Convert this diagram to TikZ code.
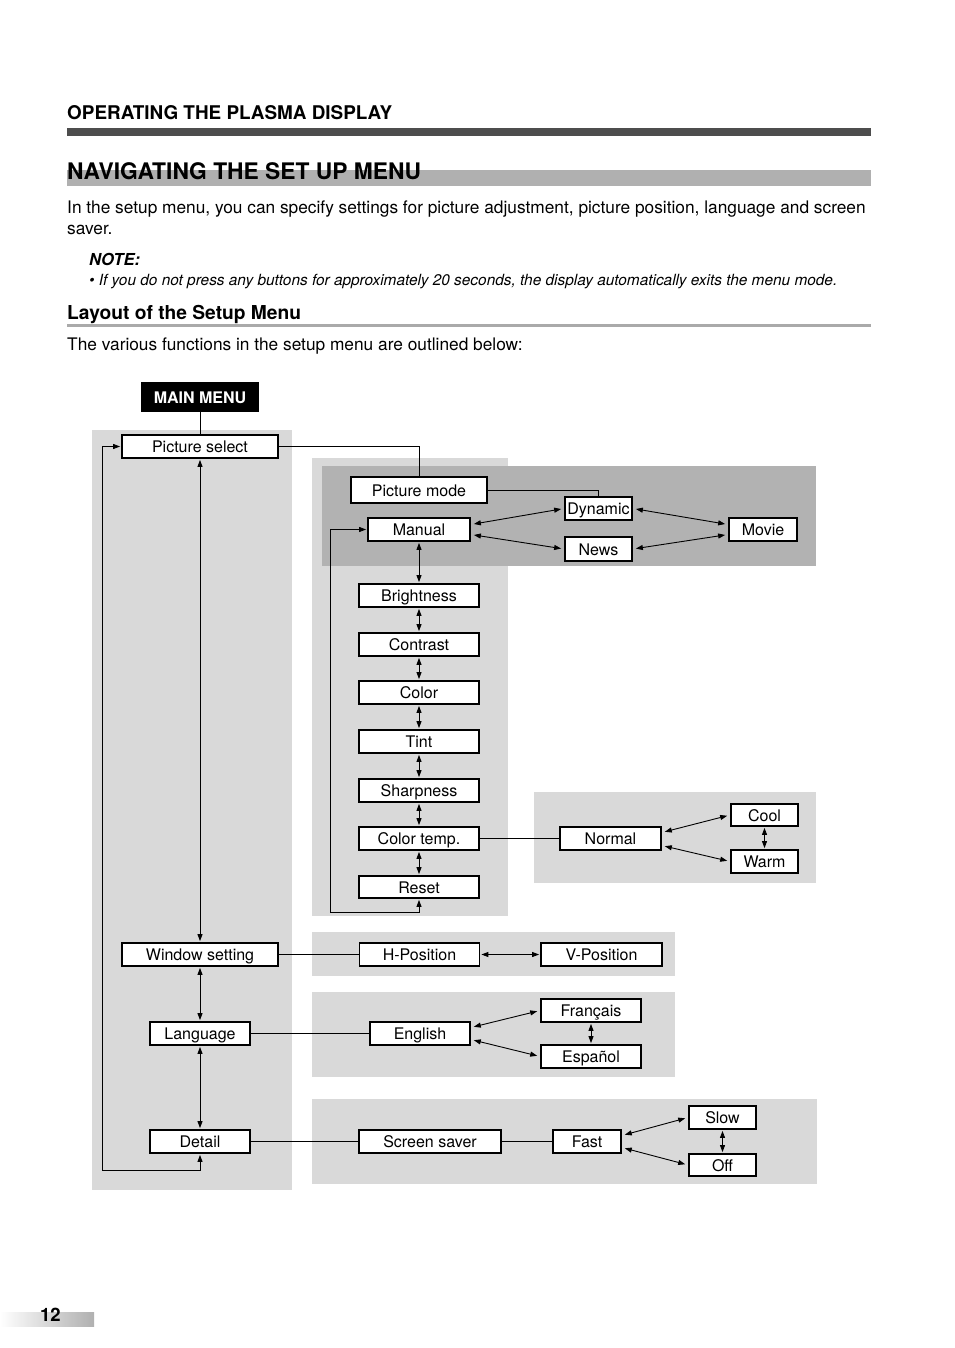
\documentclass[tikz,border=0pt]{standalone}
\usepackage{fontspec}
\setmainfont{TeX Gyre Heros}
\usetikzlibrary{arrows.meta}

\definecolor{bardark}{RGB}{77,77,77}
\definecolor{barlight}{RGB}{176,176,176}
\definecolor{rulegray}{RGB}{170,170,170}
\definecolor{panellight}{RGB}{217,217,217}
\definecolor{paneldark}{RGB}{178,178,178}

\tikzset{
  menubox/.style={draw, line width=1.8pt, fill=white, inner sep=0pt,
    minimum height=23pt, text height=13pt, text depth=1pt,
    font=\fontsize{16}{19}\selectfont},
  link/.style={line width=0.9pt},
  twoway/.style={link, {Triangle[length=7pt,width=5pt]}-{Triangle[length=7pt,width=5pt]},
    shorten <=1pt, shorten >=1pt},
  txt/.style={anchor=base west, inner sep=0pt}
}

\begin{document}
\begin{tikzpicture}[x=1pt,y=-1pt]
\useasboundingbox (0,0) rectangle (954,1348);

% page heading
\node[txt, font=\bfseries\fontsize{18.9}{22}\selectfont] (chapter) at (67,119.5) {OPERATING THE PLASMA DISPLAY};
\fill[bardark] (67,128) rectangle (871,136);
\fill[barlight] (67,170) rectangle (871,186);
\node[txt, font=\bfseries\fontsize{22.8}{27}\selectfont] (title) at (67,179.5) {NAVIGATING THE SET UP MENU};

\node[txt, font=\fontsize{17.3}{21}\selectfont] (intro1) at (67,214) {In the setup menu, you can specify settings for picture adjustment, picture position, language and screen};
\node[txt, font=\fontsize{17.3}{21}\selectfont] (intro2) at (67,234.5) {saver.};
\node[txt, font=\bfseries\itshape\fontsize{16.5}{20}\selectfont] (note) at (89,265.5) {NOTE:};
\node[txt, font=\itshape\fontsize{15.4}{18}\selectfont] (notetext) at (89,285) {\textbullet\ If you do not press any buttons for approximately 20 seconds, the display automatically exits the menu mode.};

\node[txt, font=\bfseries\fontsize{19.2}{22}\selectfont] (layout) at (67,319) {Layout of the Setup Menu};
\fill[rulegray] (67,323.5) rectangle (871,326.5);
\node[txt, font=\fontsize{17.3}{21}\selectfont] (outline) at (67,350) {The various functions in the setup menu are outlined below:};

% grey panels
\fill[panellight] (92,430) rectangle (292,1190);
\fill[panellight] (312,458) rectangle (508,916);
\fill[paneldark] (322,466) rectangle (816,566);
\fill[panellight] (534,792) rectangle (816,883);
\fill[panellight] (312,932) rectangle (675,976);
\fill[panellight] (312,992) rectangle (675,1077);
\fill[panellight] (312,1099) rectangle (817,1184);

% menu items
\node[fill=black, text=white, inner sep=0pt, minimum width=118pt, minimum height=30pt,
  text height=13pt, text depth=1pt,
  font=\bfseries\fontsize{16}{19}\selectfont] (mainmenu) at (200,397) {MAIN MENU};
\node[menubox, minimum width=156pt] (pictsel) at (200,446.5) {Picture select};
\node[menubox, minimum width=136pt, minimum height=26pt] (pictmode) at (419,490) {Picture mode};
\node[menubox, minimum width=67pt] (dynamic) at (598.5,508.5) {Dynamic};
\node[menubox, minimum width=102pt] (manual) at (419,529.5) {Manual};
\node[menubox, minimum width=67pt, minimum height=24pt] (news) at (598.5,549) {News};
\node[menubox, minimum width=68pt] (movie) at (763,529.5) {Movie};

\node[menubox, minimum width=120pt] (bright) at (419,595.5) {Brightness};
\node[menubox, minimum width=120pt] (contrast) at (419,644.5) {Contrast};
\node[menubox, minimum width=120pt] (color) at (419,692.5) {Color};
\node[menubox, minimum width=120pt] (tint) at (419,741.5) {Tint};
\node[menubox, minimum width=120pt] (sharp) at (419,790.5) {Sharpness};
\node[menubox, minimum width=120pt] (colortemp) at (419,838.5) {Color temp.};
\node[menubox, minimum width=120pt, minimum height=22pt] (reset) at (419,887) {Reset};

\node[menubox, minimum width=101pt] (normal) at (610.5,838.5) {Normal};
\node[menubox, minimum width=67pt, minimum height=22pt] (cool) at (764.5,815) {Cool};
\node[menubox, minimum width=67pt] (warm) at (764.5,861.5) {Warm};

\node[menubox, minimum width=156pt] (window) at (200,954.5) {Window setting};
\node[menubox, minimum width=120pt] (hpos) at (419.5,954.5) {H-Position};
\node[menubox, minimum width=121pt] (vpos) at (601.5,954.5) {V-Position};

\node[menubox, minimum width=100pt] (language) at (200,1033.5) {Language};
\node[menubox, minimum width=100pt] (english) at (420,1033.5) {English};
\node[menubox, minimum width=100pt] (francais) at (591,1010.5) {Français};
\node[menubox, minimum width=100pt] (espanol) at (591,1056.5) {Español};

\node[menubox, minimum width=100pt] (detail) at (200,1141.5) {Detail};
\node[menubox, minimum width=142pt] (saver) at (430,1141.5) {Screen saver};
\node[menubox, minimum width=68pt] (fast) at (587,1141.5) {Fast};
\node[menubox, minimum width=67pt] (slow) at (722.5,1117.5) {Slow};
\node[menubox, minimum width=67pt, minimum height=22pt] (off) at (722.5,1165) {Off};

% loop corners
\coordinate (resetloop) at (330,912);
\coordinate (detailloop) at (102,1170);

% plain connections
\draw[link] (mainmenu.south) -- (pictsel.north);
\draw[link] (pictsel.east) -| (pictmode.north);
\draw[link] (pictmode.east) -| (dynamic.north);
\draw[link] (colortemp.east) -- (normal.west);
\draw[link] (window.east) -- (hpos.west);
\draw[link] (language.east) -- (english.west);
\draw[link] (detail.east) -- (saver.west);
\draw[link] (saver.east) -- (fast.west);

% main menu column
\draw[twoway] (pictsel.south) -- (window.north);
\draw[twoway] (window.south) -- (language.north);
\draw[twoway] (language.south) -- (detail.north);
\draw[twoway] (detail.south) |- (detailloop) |- (pictsel.west);

% picture mode
\draw[twoway, shorten <=3pt, shorten >=3pt] ([yshift=5pt]manual.east) -- (dynamic.west);
\draw[twoway, shorten <=3pt, shorten >=3pt] ([yshift=-5pt]manual.east) -- (news.west);
\draw[twoway, shorten <=3pt, shorten >=3pt] (dynamic.east) -- ([yshift=5pt]movie.west);
\draw[twoway, shorten <=3pt, shorten >=3pt] (news.east) -- ([yshift=-5pt]movie.west);

% picture adjustments
\draw[twoway] (manual.south) -- (bright.north);
\draw[twoway] (bright.south) -- (contrast.north);
\draw[twoway] (contrast.south) -- (color.north);
\draw[twoway] (color.south) -- (tint.north);
\draw[twoway] (tint.south) -- (sharp.north);
\draw[twoway] (sharp.south) -- (colortemp.north);
\draw[twoway] (colortemp.south) -- (reset.north);
\draw[twoway] (reset.south) |- (resetloop) |- (manual.west);

% colour temperature
\draw[twoway, shorten <=3pt, shorten >=3pt] ([yshift=6pt]normal.east) -- (cool.west);
\draw[twoway, shorten <=3pt, shorten >=3pt] ([yshift=-7pt]normal.east) -- (warm.west);
\draw[twoway] (cool.south) -- (warm.north);

% window, language, screen saver
\draw[twoway] (hpos.east) -- (vpos.west);
\draw[twoway, shorten <=3pt, shorten >=3pt] ([yshift=6pt]english.east) -- (francais.west);
\draw[twoway, shorten <=3pt, shorten >=3pt] ([yshift=-6pt]english.east) -- (espanol.west);
\draw[twoway] (francais.south) -- (espanol.north);
\draw[twoway, shorten <=3pt, shorten >=3pt] ([yshift=6pt]fast.east) -- (slow.west);
\draw[twoway, shorten <=3pt, shorten >=3pt] ([yshift=-6pt]fast.east) -- (off.west);
\draw[twoway] (slow.south) -- (off.north);

% page number
\shade[left color=white, right color=barlight] (0,1312.5) rectangle (94,1326.5);
\node[txt, font=\bfseries\fontsize{18.5}{22}\selectfont] (pagenum) at (40,1321) {12};

\end{tikzpicture}
\end{document}
